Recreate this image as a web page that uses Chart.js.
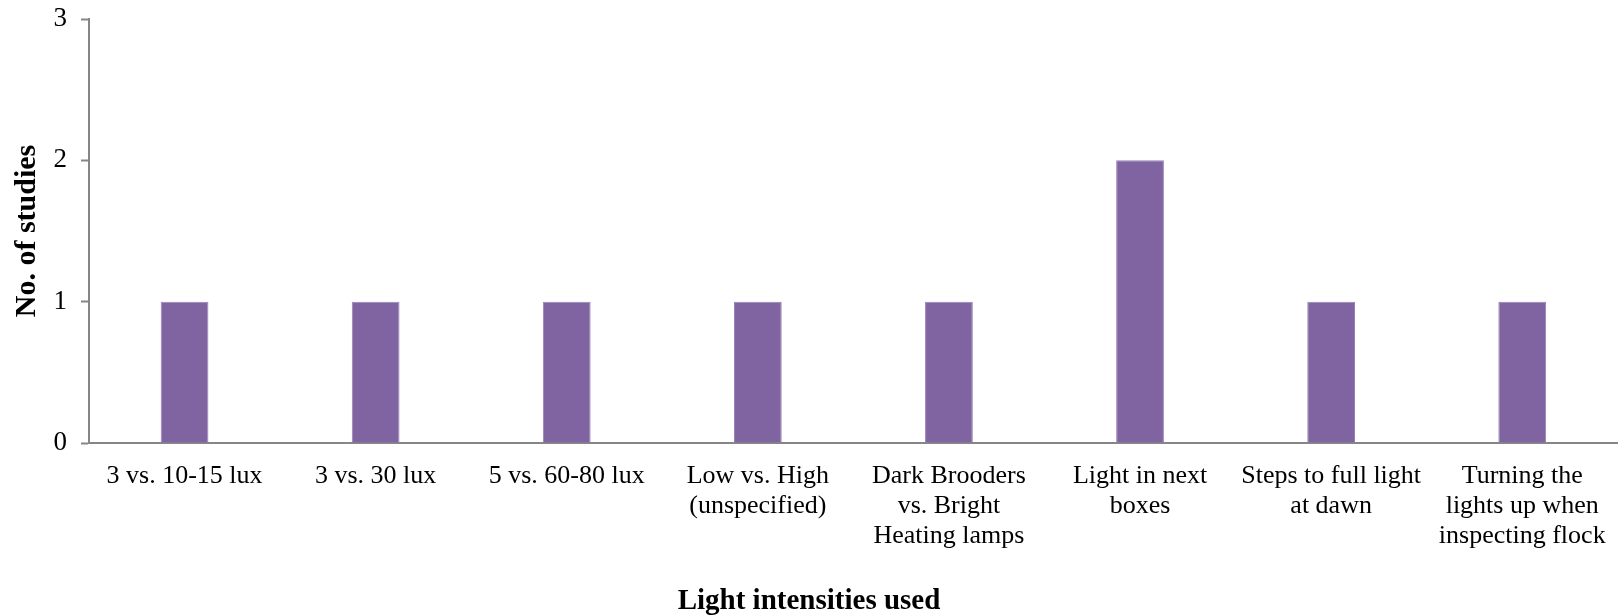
<!DOCTYPE html>
<html>
<head>
<meta charset="utf-8">
<script src="https://cdn.jsdelivr.net/npm/chart.js@4.4.1/dist/chart.umd.min.js"></script>
<style>
  html, body { margin: 0; padding: 0; background: #ffffff; }
  #wrap { width: 1624px; height: 616px; }
</style>
</head>
<body>
<div id="wrap"><canvas id="chart" width="1624" height="616"></canvas></div>
<script>
// Comparisons of light intensity and how many studies used each
const categories = [
  "3 vs. 10-15 lux",
  "3 vs. 30 lux",
  "5 vs. 60-80 lux",
  ["Low vs. High", "(unspecified)"],
  ["Dark Brooders", "vs. Bright", "Heating lamps"],
  ["Light in next", "boxes"],
  ["Steps to full light", "at dawn"],
  ["Turning the", "lights up when", "inspecting flock"]
];
const studyCounts = [1, 1, 1, 1, 1, 2, 1, 1];
const yTicks = [0, 1, 2, 3];

const serif = "'Liberation Serif', 'Times New Roman', serif";
const axisGray = '#868686';

new Chart(document.getElementById('chart'), {
  type: 'bar',
  data: {
    labels: categories,
    datasets: [{
      label: 'No. of studies',
      data: studyCounts,
      backgroundColor: '#8064A2',
      borderColor: '#9880B6',
      borderWidth: { left: 1, right: 1, top: 1, bottom: 0 },
      categoryPercentage: 1.0,
      barPercentage: 0.25
    }]
  },
  options: {
    responsive: false,
    animation: false,
    layout: { padding: { top: 19, right: 6, left: 0, bottom: 0 } },
    plugins: {
      legend: { display: false },
      tooltip: { enabled: false },
      title: {
        display: true,
        position: 'bottom',
        text: 'Light intensities used',
        color: '#000000',
        font: { family: serif, size: 29, weight: 'bold', lineHeight: 1.0 },
        padding: { top: 0, bottom: 0 }
      }
    },
    scales: {
      x: {
        grid: { display: true, drawOnChartArea: false, drawTicks: false },
        border: { display: true, color: axisGray, width: 2 },
        ticks: {
          color: '#000000',
          font: { family: serif, size: 26, lineHeight: 1.15 },
          padding: 18,
          maxRotation: 0,
          minRotation: 0,
          autoSkip: false
        },
        afterFit: s => { s.height = 144; }
      },
      y: {
        min: 0,
        max: 3,
        afterBuildTicks: s => { s.ticks = yTicks.map(v => ({ value: v })); },
        grid: { display: true, drawOnChartArea: false, drawTicks: true, tickLength: 8, color: axisGray, tickWidth: 2 },
        border: { display: true, color: axisGray, width: 2 },
        ticks: {
          color: '#000000',
          font: { family: serif, size: 27 },
          padding: 14
        },
        title: {
          display: true,
          text: 'No. of studies',
          color: '#000000',
          font: { family: serif, size: 30, weight: 'bold' },
          padding: { top: 9, bottom: 0 }
        },
        afterFit: s => {
          s.width = 89;
          s.paddingTop = 0;
          s.paddingBottom = 0;
        }
      }
    }
  }
});
</script>
</body>
</html>
